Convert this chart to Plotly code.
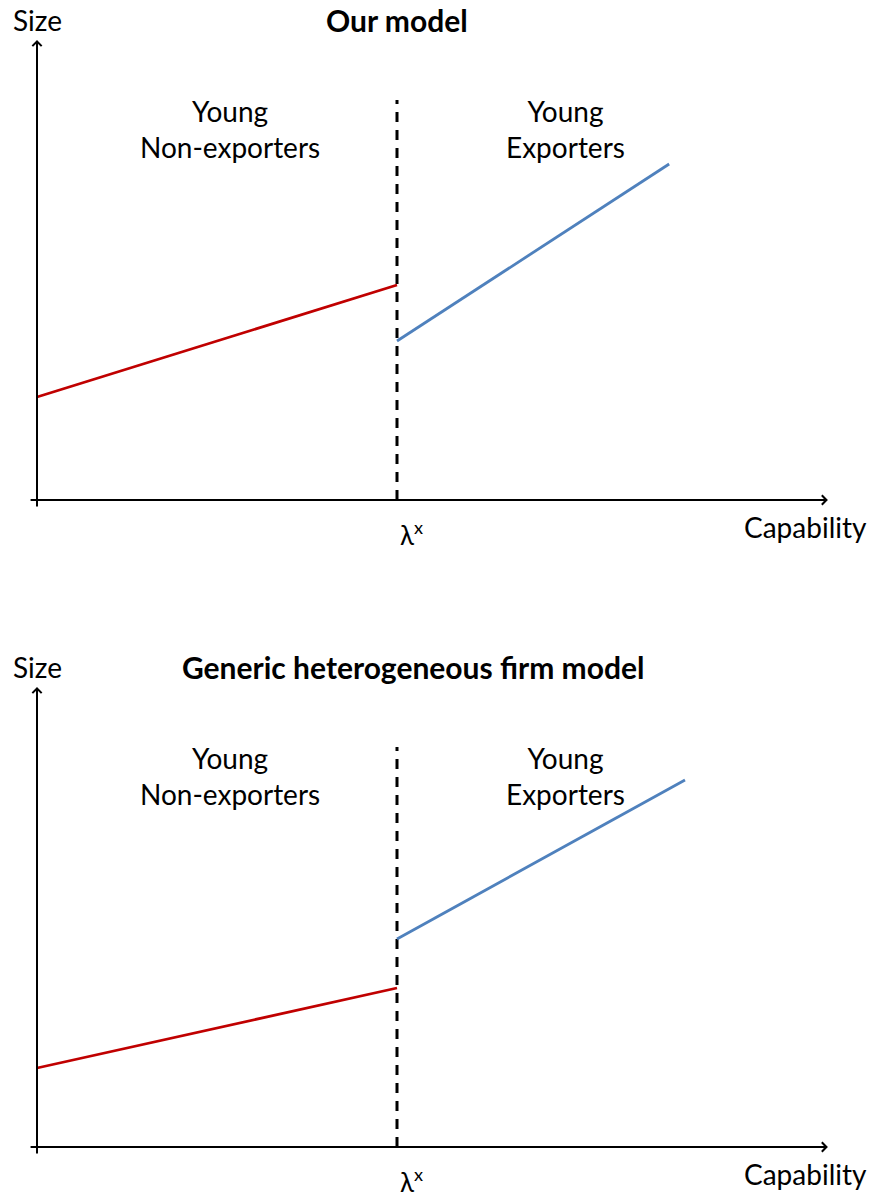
import plotly.graph_objects as go

# --- data (capability on x, size on y; lambda^x threshold at capability 1) ---
threshold = 1.0
dash_top = 4.0

nonexp_cap = [0.0, 1.0]
nonexp_size_ours = [1.03, 2.15]
exp_cap_ours = [1.0, 1.756]
exp_size_ours = [1.59, 3.36]

nonexp_size_generic = [0.79, 1.59]
exp_cap_generic = [1.0, 1.8]
exp_size_generic = [2.08, 3.67]

panel_titles = ["Our model", "Generic heterogeneous firm model"]
title_x = [1.0, 1.044]

RED = "#C00000"
BLUE = "#4F81BD"
FONT = "Lato"

W, H = 876, 1197
split = 1 - 600 / H

fig = go.Figure()

panels = [
    ("x", "y", nonexp_size_ours, exp_cap_ours, exp_size_ours),
    ("x2", "y2", nonexp_size_generic, exp_cap_generic, exp_size_generic),
]

for i, (xr, yr, ne_size, e_cap, e_size) in enumerate(panels):
    # threshold dashed line
    fig.add_trace(go.Scatter(
        x=[threshold, threshold], y=[0, dash_top], mode="lines",
        line=dict(color="black", width=3, dash="10px,8px"),
        xaxis=xr, yaxis=yr, showlegend=False, hoverinfo="skip"))
    fig.add_trace(go.Scatter(
        x=nonexp_cap, y=ne_size, mode="lines",
        line=dict(color=RED, width=2.8),
        xaxis=xr, yaxis=yr, showlegend=False))
    fig.add_trace(go.Scatter(
        x=e_cap, y=e_size, mode="lines",
        line=dict(color=BLUE, width=2.8),
        xaxis=xr, yaxis=yr, showlegend=False))

    # axes with arrows
    arrow = dict(xref=xr, yref=yr, axref=xr, ayref=yr, text="", showarrow=True,
                 arrowhead=4, arrowsize=0.9, arrowwidth=2, arrowcolor="black",
                 standoff=0)
    fig.add_annotation(x=2.197, y=0, ax=-0.022, ay=0, **arrow)
    fig.add_annotation(x=0, y=4.6, ax=0, ay=-0.08, **arrow)

    txt = dict(xref=xr, yref=yr, showarrow=False,
               font=dict(family=FONT, size=28, color="black"))
    fig.add_annotation(x=0, y=4.8, text="Size", **txt)
    fig.add_annotation(x=title_x[i], y=4.8, text="<b>" + panel_titles[i] + "</b>",
                       xref=xr, yref=yr, showarrow=False,
                       font=dict(family=FONT, size=30, color="black"))
    fig.add_annotation(x=0.536, y=3.71, text="Young<br>Non-exporters", **txt)
    fig.add_annotation(x=1.469, y=3.71, text="Young<br>Exporters", **txt)
    fig.add_annotation(x=1.039, y=-0.33, text="λ<sup>x</sup>",
                       xref=xr, yref=yr, showarrow=False,
                       font=dict(family=FONT, size=26, color="black"))
    fig.add_annotation(x=2.136, y=-0.27, text="Capability", **txt)

xrange = [-37 / 360, (W - 37) / 360]
fig.update_layout(
    width=W, height=H,
    margin=dict(l=0, r=0, t=0, b=0),
    paper_bgcolor="white", plot_bgcolor="white",
    xaxis=dict(domain=[0, 1], range=xrange, visible=False),
    yaxis=dict(domain=[split, 1], range=[-1.0, 5.0], visible=False),
    xaxis2=dict(domain=[0, 1], range=xrange, visible=False, anchor="y2"),
    yaxis2=dict(domain=[0, split], range=[-0.5, 5.47], visible=False, anchor="x2"),
)

fig.write_html("out.html", config={"displayModeBar": False},
               post_script="document.body.style.margin='0';")
